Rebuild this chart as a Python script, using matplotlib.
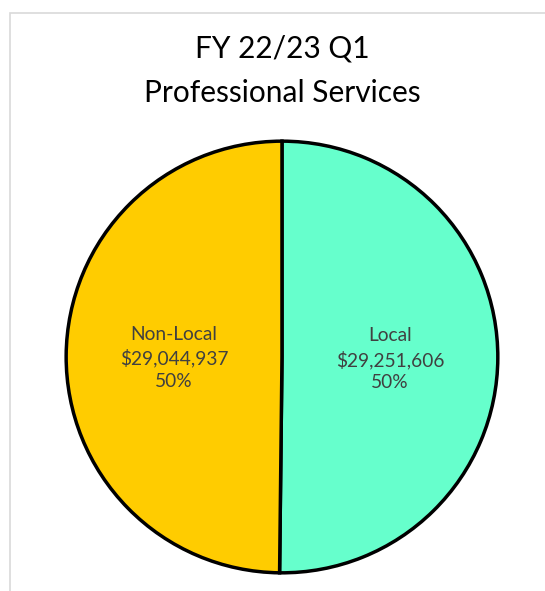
import matplotlib
matplotlib.use("Agg")
import matplotlib.pyplot as plt
import numpy as np
from matplotlib.patches import Rectangle

categories = ["Local", "Non-Local"]
amounts = [29251606, 29044937]
colors = ["#66FFCC", "#FFCC00"]
title_lines = ["FY 22/23 Q1", "Professional Services"]

plt.rcParams['font.family'] = ['Lato', 'DejaVu Sans']

fig = plt.figure(figsize=(5.45, 5.91), dpi=100)
fig.patch.set_facecolor("white")

# light grey chart-area border (top and left visible)
fig.add_artist(Rectangle((9.5 / 545, -0.5), 2, 0.5 + 1 - 12.5 / 591,
                         transform=fig.transFigure, fill=False,
                         edgecolor="#d9d9d9", linewidth=1.2))

ax = fig.add_axes([0.1174, 0.0271, 0.8, 0.7377])
wedges, _ = ax.pie(amounts, colors=colors, startangle=90, counterclock=False,
                   wedgeprops=dict(edgecolor="black", linewidth=2.5))
ax.set_xlim(-1.01, 1.01)
ax.set_ylim(-1.01, 1.01)
ax.set_aspect("equal")

total = sum(amounts)
for w, name, val in zip(wedges, categories, amounts):
    ang = np.deg2rad((w.theta1 + w.theta2) / 2)
    x, y = 0.5 * np.cos(ang), 0.5 * np.sin(ang) - 0.008
    label = "{n}\n${v:,}\n{p:.0f}%".format(n=name, v=val, p=100 * val / total)
    ax.text(x, y, label, ha="center", va="center", fontsize=13.8,
            color="#404040", linespacing=1.38)

fig.text(282 / 545, 1 - 48 / 591, title_lines[0], ha="center", va="center",
         fontsize=21.5, color="black")
fig.text(282 / 545, 1 - 93 / 591, title_lines[1], ha="center", va="center",
         fontsize=21.5, color="black")

fig.savefig("out.png", dpi=100)
